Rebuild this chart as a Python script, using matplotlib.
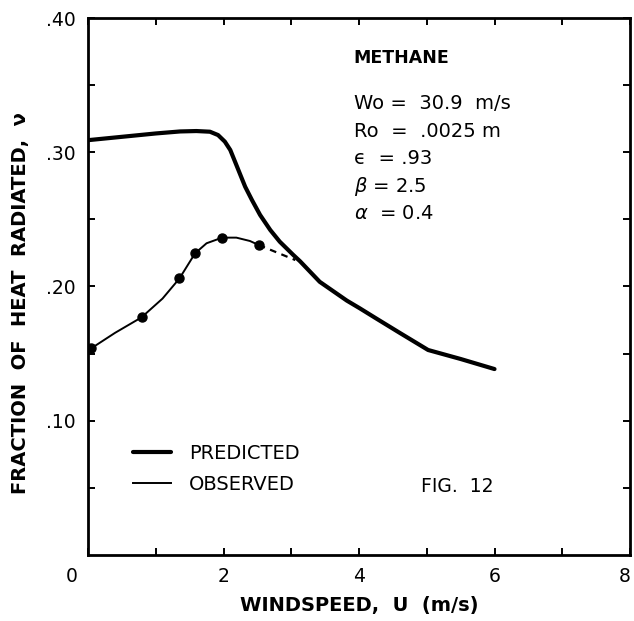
import matplotlib

matplotlib.use("Agg", force=True)
import matplotlib.pyplot as plt
import matplotlib.transforms as mtransforms

# ---- data ----
pred_u = [0.0, 0.5, 1.0, 1.36, 1.6, 1.8, 1.92, 2.02, 2.10, 2.17, 2.25, 2.32, 2.42, 2.54,
          2.69, 2.83, 3.03, 3.13, 3.42, 3.82, 4.01, 4.26, 4.6, 5.02, 5.5, 6.0]
pred_v = [0.309, 0.3115, 0.314, 0.3155, 0.3158, 0.3153, 0.3128, 0.3079, 0.3017, 0.293, 0.283,
          0.2743, 0.2644, 0.2533, 0.2421, 0.2334, 0.2235, 0.2188, 0.2035, 0.1895, 0.1838,
          0.176, 0.1655, 0.1527, 0.146, 0.1385]

obs_line_u = [0.0, 0.05, 0.4, 0.79, 1.1, 1.35, 1.58, 1.75, 1.98, 2.19, 2.39, 2.52]
obs_line_v = [0.152, 0.154, 0.1655, 0.177, 0.191, 0.206, 0.2247, 0.2322, 0.2364, 0.2364, 0.2339, 0.2309]

obs_pts_u = [0.05, 0.79, 1.35, 1.58, 1.98, 2.52]
obs_pts_v = [0.154, 0.177, 0.206, 0.2247, 0.2364, 0.2309]

dash_u = [2.52, 3.06]
dash_v = [0.2309, 0.2197]

x_major = [0, 2, 4, 6, 8]
x_minor = [1, 3, 5, 7]
y_major = [0.10, 0.20, 0.30, 0.40]
y_minor = [0.05, 0.15, 0.25, 0.35]
y_labels = [".10", ".20", ".30", ".40"]

params = ["Wo =  30.9  m/s", "Ro  =  .0025 m", "\u03f5  = .93", r"$\beta$ = 2.5", r"$\alpha$  = 0.4"]

plt.rcParams["font.family"] = ["DejaVu Sans"]

fig = plt.figure(figsize=(6.34, 6.21), dpi=100)
ax = fig.add_axes([0.1388, 0.1063, 0.8549, 0.8647])

ax.plot(pred_u, pred_v, color="black", linewidth=3.0, solid_capstyle="round",
        solid_joinstyle="round", label="PREDICTED")
ax.plot(obs_line_u, obs_line_v, color="black", linewidth=1.4, solid_joinstyle="round",
        label="OBSERVED")
ax.plot(obs_pts_u, obs_pts_v, "o", color="black", markersize=6.5)
ax.plot(dash_u, dash_v, color="black", linewidth=1.6, linestyle=(0, (3, 2.5)))

ax.set_xlim(0, 8)
ax.set_ylim(0, 0.40)

ax.set_xticks(x_major)
ax.set_xticks(x_minor, minor=True)
ax.set_xticklabels([str(v) for v in x_major])
ax.set_yticks(y_major)
ax.set_yticks(y_minor, minor=True)
ax.set_yticklabels(y_labels)
ax.tick_params(which="both", direction="in", top=True, right=True, length=5, width=1.4,
               labelsize=13.5, pad=9)

# the "0" sits left of the corner, the "8" is squeezed against the edge
xl = ax.get_xticklabels()
xl[0].set_transform(xl[0].get_transform()
                    + mtransforms.ScaledTranslation(-0.16, 0, fig.dpi_scale_trans))
xl[-1].set_transform(xl[-1].get_transform()
                     + mtransforms.ScaledTranslation(-0.05, 0, fig.dpi_scale_trans))

for sp in ax.spines.values():
    sp.set_linewidth(2.0)

ax.set_xlabel("WINDSPEED,  U  (m/s)", fontsize=14, fontweight="bold", labelpad=7)
ax.set_ylabel("FRACTION  OF  HEAT  RADIATED,  \u03bd", fontsize=14, fontweight="bold")
ax.yaxis.set_label_coords(-0.107, 0.47)

ax.text(0.49, 0.925, "METHANE", transform=ax.transAxes, fontsize=12.5, fontweight="bold",
        va="center", ha="left")
for i, s in enumerate(params):
    ax.text(0.49, 0.84 - i * 0.051, s, transform=ax.transAxes, fontsize=14,
            va="center", ha="left")

ax.legend(loc="upper left", bbox_to_anchor=(0.05, 0.24), frameon=False, fontsize=14,
          handlelength=2.0, handletextpad=0.9, labelspacing=0.65)

ax.text(0.615, 0.127, "FIG.  12", transform=ax.transAxes, fontsize=13.5, va="center",
        ha="left")

fig.savefig("out.png", dpi=100)
